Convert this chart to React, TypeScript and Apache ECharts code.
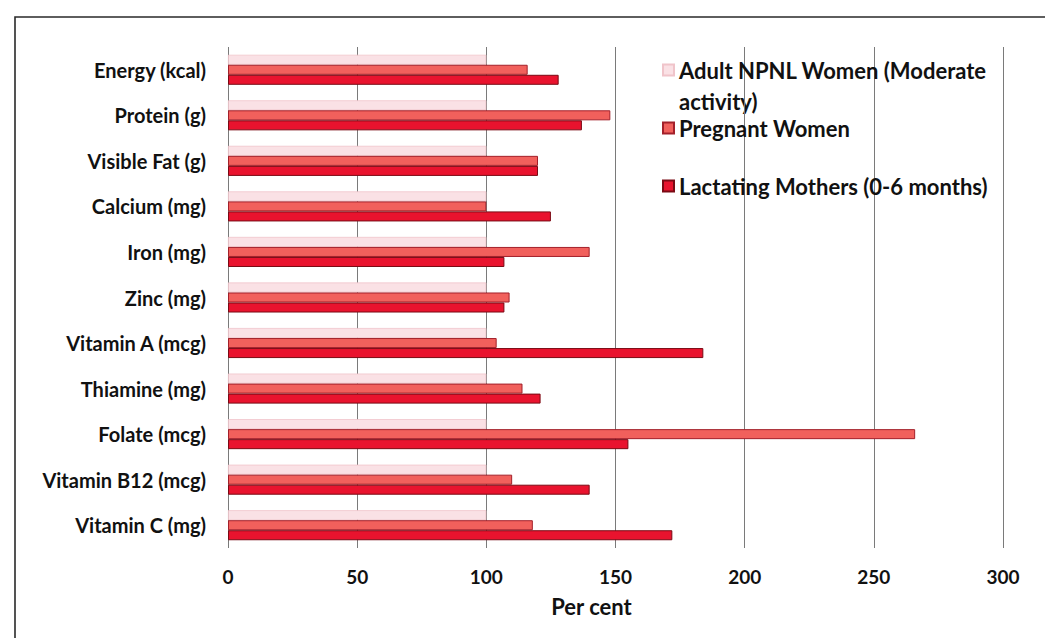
import React, { useEffect, useRef } from "react";
import * as echarts from "echarts";

const categories = [
  "Energy (kcal)",
  "Protein (g)",
  "Visible Fat (g)",
  "Calcium (mg)",
  "Iron (mg)",
  "Zinc (mg)",
  "Vitamin A (mcg)",
  "Thiamine (mg)",
  "Folate (mcg)",
  "Vitamin B12 (mcg)",
  "Vitamin C (mg)",
];
const seriesNames = [
  "Adult NPNL Women (Moderate activity)",
  "Pregnant Women",
  "Lactating Mothers (0-6 months)",
];
const npnlValues = [100, 100, 100, 100, 100, 100, 100, 100, 100, 100, 100];
const pregnantValues = [116, 148, 120, 100, 140, 109, 104, 114, 266, 110, 118];
const lactatingValues = [128, 137, 120, 125, 107, 107, 184, 121, 155, 140, 172];
const xTicks = [0, 50, 100, 150, 200, 250, 300];

const FONT = "Lato";

export default function App() {
  const ref = useRef<HTMLDivElement>(null);
  useEffect(() => {
    document.body.style.margin = "0";
    const chart = echarts.init(ref.current!, null, { renderer: "svg" });
    const legendText = {
      fontFamily: FONT,
      fontWeight: "bold" as const,
      fontSize: 22,
      color: "#111",
    };
    chart.setOption({
      animation: false,
      backgroundColor: "#ffffff",
      graphic: [
        {
          type: "rect",
          shape: { x: 15, y: 17, width: 1100, height: 700 },
          style: { fill: "none", stroke: "#2a2a2a", lineWidth: 1.6 },
          silent: true,
          z: 0,
        },
        {
          type: "text",
          left: 679,
          top: 90,
          style: { text: "activity)", fill: "#111", font: `bold 22px ${FONT}` },
        },
        {
          type: "text",
          left: 551,
          top: 595,
          style: { text: "Per cent", fill: "#111", font: `bold 22px ${FONT}`, textAlign: "center" },
        },
      ],
      legend: [
        {
          data: [seriesNames[0]],
          left: 662,
          top: 59,
          padding: 0,
          icon: "rect",
          itemWidth: 11,
          itemHeight: 11,
          formatter: () => "Adult NPNL Women (Moderate",
          textStyle: legendText,
        },
        {
          data: [seriesNames[1]],
          left: 662,
          top: 117,
          padding: 0,
          icon: "rect",
          itemWidth: 11,
          itemHeight: 11,
          textStyle: legendText,
        },
        {
          data: [seriesNames[2]],
          left: 662,
          top: 175,
          padding: 0,
          icon: "rect",
          itemWidth: 11,
          itemHeight: 11,
          textStyle: legendText,
        },
      ],
      grid: { left: 228, right: 42, top: 47, bottom: 90, containLabel: false },
      xAxis: {
        type: "value",
        min: 0,
        max: 300,
        interval: 50,
        axisLine: { show: false },
        axisTick: { show: false },
        axisLabel: {
          margin: 19,
          fontFamily: FONT,
          fontWeight: "bold",
          fontSize: 19,
          color: "#111",
          formatter: (v: number) => (xTicks.includes(v) ? String(v) : ""),
        },
        splitLine: { show: true, lineStyle: { color: "#7a7a7a", width: 1 } },
      },
      yAxis: {
        type: "category",
        data: categories,
        inverse: true,
        axisLine: { show: false },
        axisTick: { show: false },
        axisLabel: {
          margin: 22,
          fontFamily: FONT,
          fontWeight: "bold",
          fontSize: 20,
          color: "#111",
          padding: [5, 0, 0, 0],
        },
      },
      series: [
        {
          name: seriesNames[0],
          type: "bar",
          data: npnlValues,
          barGap: "0%",
          barCategoryGap: "34%",
          itemStyle: { color: "#fae1e5", borderColor: "#f0c4ca", borderWidth: 0.8 },
        },
        {
          name: seriesNames[1],
          type: "bar",
          data: pregnantValues,
          barGap: "0%",
          barCategoryGap: "34%",
          itemStyle: { color: "#f1605c", borderColor: "#a3202a", borderWidth: 1 },
        },
        {
          name: seriesNames[2],
          type: "bar",
          data: lactatingValues,
          barGap: "0%",
          barCategoryGap: "34%",
          itemStyle: { color: "#e9132e", borderColor: "#7a0a14", borderWidth: 1 },
        },
      ],
    });
    return () => chart.dispose();
  }, []);
  return <div ref={ref} style={{ width: 1045, height: 638 }} />;
}
